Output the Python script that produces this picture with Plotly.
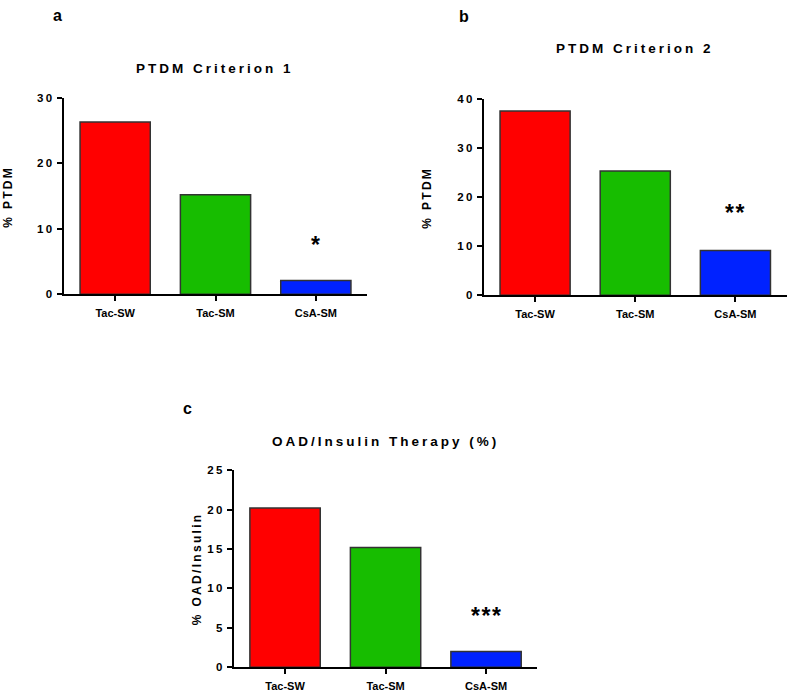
import plotly.graph_objects as go

# ---------------- data ----------------
categories = ["Tac-SW", "Tac-SM", "CsA-SM"]
crit1_values = [26.3, 15.2, 2.1]
crit2_values = [37.5, 25.3, 9.1]
oad_values = [20.2, 15.2, 2.0]
bar_colors = ["#FF0000", "#17BD00", "#0022FF"]
crit1_ticks = [0, 10, 20, 30]
crit2_ticks = [0, 10, 20, 30, 40]
oad_ticks = [0, 5, 10, 15, 20, 25]
panel_letters = ["a", "b", "c"]
panel_titles = ["PTDM Criterion 1", "PTDM Criterion 2", "OAD/Insulin Therapy (%)"]
y_titles = ["% PTDM", "% PTDM", "% OAD/Insulin"]
sig_labels = ["*", "**", "***"]

W, H = 787, 699
FONT = "Liberation Sans, Arial, sans-serif"


def px_x(p):
    return p / W


def px_y(p):
    return 1 - p / H


def spaced(text, sp):
    return f'<span style="letter-spacing:{sp}px">{text}</span>'


panels = [
    dict(values=crit1_values, ticks=crit1_ticks, xpx=(64, 367), ypx=(93.3, 293.3),
         xr=[-0.51, 2.51], yr=[0, 30], sig_y=7.5,
         letter=(57.5, 10), title=(215, 64), ytitle=(8, 194)),
    dict(values=crit2_values, ticks=crit2_ticks, xpx=(484.3, 787), ypx=(94.3, 294.3),
         xr=[-0.507, 2.515], yr=[0, 40], sig_y=16.7,
         letter=(464, 10.5), title=(634.5, 43), ytitle=(427, 195)),
    dict(values=oad_values, ticks=oad_ticks, xpx=(234.3, 537), ypx=(472.3, 672.7),
         xr=[-0.505, 2.507], yr=[0, 25], sig_y=6.5,
         letter=(187, 410), title=(385, 443), ytitle=(197, 573)),
]

fig = go.Figure()
annotations = []
layout_axes = {}

for i, p in enumerate(panels):
    sfx = "" if i == 0 else str(i + 1)
    xa, ya = "x" + sfx, "y" + sfx
    fig.add_trace(go.Bar(
        x=categories, y=p["values"], xaxis=xa, yaxis=ya,
        width=0.7,
        marker=dict(color=bar_colors, line=dict(color="#333333", width=1.5)),
        showlegend=False, hoverinfo="x+y",
    ))
    layout_axes["xaxis" + sfx] = dict(
        domain=[px_x(p["xpx"][0]), px_x(p["xpx"][1])],
        anchor=ya, type="category", range=p["xr"],
        showline=True, linewidth=2, linecolor="black",
        ticks="outside", ticklen=5, tickwidth=2, tickcolor="black",
        ticklabelstandoff=3,
        showgrid=False, zeroline=False,
        tickfont=dict(family=FONT, size=11, color="black", weight="bold"),
    )
    layout_axes["yaxis" + sfx] = dict(
        domain=[px_y(p["ypx"][1]), px_y(p["ypx"][0])],
        anchor=xa, range=p["yr"],
        tickvals=p["ticks"], ticktext=[spaced(str(t), 2.5) for t in p["ticks"]],
        showline=True, linewidth=2, linecolor="black",
        ticks="outside", ticklen=5, tickwidth=2, tickcolor="black",
        showgrid=False, zeroline=False,
        tickfont=dict(family=FONT, size=11.5, color="black", weight="bold"),
    )
    # significance stars
    annotations.append(dict(
        x=categories[2], y=p["sig_y"], xref=xa, yref=ya,
        text=spaced(sig_labels[i], 1.5), showarrow=False,
        font=dict(family=FONT, size=23, color="black", weight="bold"),
        xanchor="center", yanchor="middle",
    ))
    # panel letter
    annotations.append(dict(
        x=px_x(p["letter"][0]), y=px_y(p["letter"][1]), xref="paper", yref="paper",
        text=panel_letters[i], showarrow=False,
        font=dict(family=FONT, size=16, color="black", weight="bold"),
        xanchor="center", yanchor="middle",
    ))
    # panel title
    annotations.append(dict(
        x=px_x(p["title"][0]), y=px_y(p["title"][1]), xref="paper", yref="paper",
        text=spaced(panel_titles[i], 3), showarrow=False,
        font=dict(family=FONT, size=13.5, color="black", weight="bold"),
        xanchor="center", yanchor="middle",
    ))
    # y-axis title
    annotations.append(dict(
        x=px_x(p["ytitle"][0]), y=px_y(p["ytitle"][1]), xref="paper", yref="paper",
        text=spaced(y_titles[i], 2.3), showarrow=False, textangle=-90,
        font=dict(family=FONT, size=12, color="black", weight="bold"),
        xanchor="center", yanchor="middle",
    ))

fig.update_layout(
    width=W, height=H,
    margin=dict(l=0, r=0, t=0, b=0),
    paper_bgcolor="white", plot_bgcolor="white",
    bargap=0.3,
    annotations=annotations,
    **layout_axes,
)

# remove the browser's default 8px body margin so the figure fills the window
fig.write_html("out.html", config={"displayModeBar": False},
               post_script="document.body.style.margin='0px';")
